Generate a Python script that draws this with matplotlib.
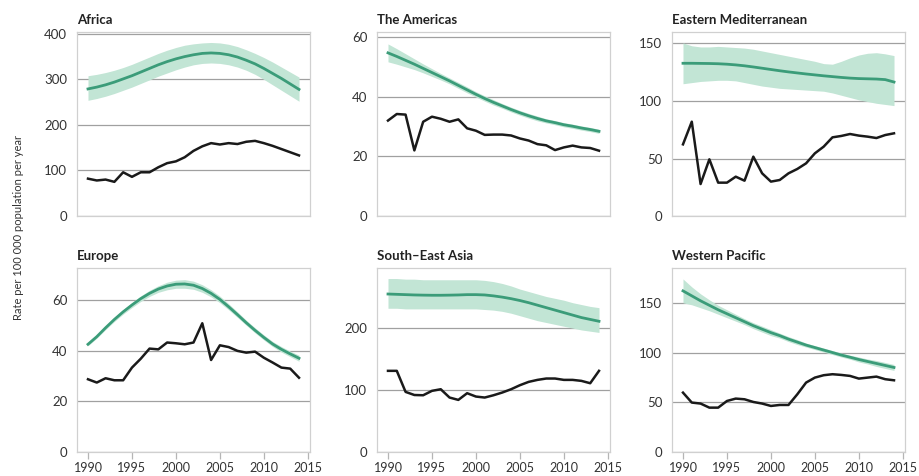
import numpy as np
import matplotlib
matplotlib.use('Agg')
import matplotlib.pyplot as plt

plt.rcParams['font.family'] = ['Lato', 'DejaVu Sans']

years = list(range(1990, 2015))

# Africa
afr_obs = [82, 78, 80, 75, 96, 86, 96, 96, 107, 116, 120, 129, 143, 153, 160, 157,
           160, 158, 163, 165, 160, 154, 147, 140, 133]
afr_est = [279, 283, 288, 294, 301, 308, 316, 324, 332, 339, 345, 350, 354, 357, 358,
           357, 354, 349, 342, 334, 324, 313, 302, 290, 278]
afr_lo = [254, 258, 263, 269, 276, 283, 291, 299, 307, 314, 321, 327, 332, 335, 336,
          335, 332, 327, 320, 311, 300, 288, 276, 264, 252]
afr_hi = [308, 311, 315, 320, 326, 333, 341, 349, 357, 364, 370, 375, 378, 380, 381,
          380, 377, 372, 365, 357, 348, 338, 327, 316, 305]

# The Americas
amr_obs = [32, 34.2, 34, 22, 31.6, 33.3, 32.6, 31.6, 32.4, 29.4, 28.6, 27.2, 27.3, 27.3,
           27, 26, 25.3, 24.1, 23.7, 22.1, 23, 23.6, 23, 22.8, 21.9]
amr_est = [54.7, 53.5, 52.2, 50.9, 49.5, 48.1, 46.7, 45.3, 43.8, 42.3, 40.8, 39.4, 38.1,
           36.9, 35.7, 34.6, 33.6, 32.7, 31.9, 31.3, 30.6, 30.1, 29.5, 29.0, 28.4]
amr_lo = [51.7, 50.9, 50.0, 49.1, 48.0, 46.8, 45.6, 44.3, 42.8, 41.3, 39.9, 38.5, 37.2,
          36.1, 34.9, 33.8, 32.8, 31.9, 31.2, 30.6, 29.9, 29.4, 28.8, 28.3, 27.7]
amr_hi = [57.7, 56.1, 54.4, 52.7, 51.0, 49.4, 47.8, 46.3, 44.8, 43.3, 41.7, 40.3, 39.0,
          37.7, 36.5, 35.4, 34.4, 33.5, 32.6, 32.0, 31.3, 30.8, 30.2, 29.7, 29.1]

# Eastern Mediterranean
emr_obs = [62.3, 82, 27.8, 49.3, 29, 29, 34.2, 30.7, 51.6, 37.1, 29.9, 31.3, 37.1, 40.9,
           45.8, 54.5, 60.3, 68.4, 69.6, 71.3, 69.9, 69, 67.8, 70.4, 71.9]
emr_est = [132.8, 132.8, 132.7, 132.6, 132.4, 132.0, 131.4, 130.6, 129.6, 128.5, 127.4,
           126.3, 125.3, 124.4, 123.5, 122.7, 121.9, 121.2, 120.5, 119.9, 119.5, 119.3,
           119.1, 118.6, 116.5]
emr_lo = [115, 116, 117, 117.5, 118, 118, 117.5, 116, 114.5, 113, 112, 111, 110.5, 110,
          109.5, 109, 108.5, 107, 105, 103, 101, 99.5, 98, 97, 96]
emr_hi = [150.5, 148, 147, 147, 147.5, 147, 146.5, 146, 145, 143.5, 142, 140.5, 139,
          137.5, 136, 134.5, 132.5, 132, 134.5, 137.5, 140, 141.5, 142, 141, 139.5]

# Europe
eur_obs = [28.7, 27.4, 29.1, 28.3, 28.3, 33.3, 36.8, 40.8, 40.5, 43.2, 42.9, 42.5, 43.2,
           50.8, 36.3, 42.1, 41.4, 39.9, 39.2, 39.6, 37.2, 35.3, 33.3, 32.9, 29.3]
eur_est = [42.5, 45.5, 49, 52.3, 55.3, 58, 60.5, 62.6, 64.3, 65.5, 66.2, 66.3, 65.8,
           64.5, 62.6, 60.2, 57.3, 54.2, 51, 48, 45.2, 42.6, 40.5, 38.7, 37]
eur_lo = [41.9, 44.9, 48.3, 51.5, 54.4, 57.0, 59.4, 61.4, 63.0, 64.0, 64.6, 64.6, 64.2,
          63.0, 61.2, 58.9, 56.1, 53.1, 50.0, 47.0, 44.2, 41.6, 39.4, 37.6, 35.8]
eur_hi = [43.1, 46.1, 49.7, 53.1, 56.2, 59.0, 61.6, 63.8, 65.6, 67.0, 67.8, 68.0, 67.4,
          66.0, 64.0, 61.5, 58.5, 55.3, 52.0, 49.0, 46.2, 43.6, 41.6, 39.8, 38.2]

# South-East Asia
sear_obs = [131, 131, 97, 92, 91.6, 98.7, 101.3, 87.9, 84.1, 94.9, 89.5, 87.9, 91.6, 96,
            101.3, 107.8, 113.2, 116.4, 118.6, 118.6, 116.4, 116.4, 114.8, 111, 131]
sear_est = [255, 254.5, 254, 253.5, 253.2, 253, 253, 253.2, 253.5, 254, 254, 253.5, 252,
            250, 247.5, 244.5, 241, 237, 233, 229, 225, 221, 217, 214, 211]
sear_lo = [232, 232, 231, 231, 231, 231, 231, 231, 231, 231, 231, 230, 229, 227, 224,
           220, 216, 212, 209, 206, 203, 200, 197, 195, 193]
sear_hi = [280, 280, 279, 279, 278, 278, 278, 278, 278, 278, 278, 277, 275, 272, 268,
           263, 259, 255, 251, 248, 245, 241, 238, 235, 233]

# Western Pacific
wpr_obs = [59.7, 49.7, 48.7, 44.6, 44.6, 51.3, 53.7, 53, 50.3, 48.7, 46.3, 47.3, 47.3,
           58, 69.8, 74.8, 77.2, 78.2, 77.5, 76.5, 73.8, 74.8, 75.8, 73.2, 72.1]
wpr_est = [162, 157, 152, 147.5, 143, 139, 135, 131, 127, 123.5, 120, 117, 113.5, 110.5,
           107.5, 105, 102.5, 100, 97.5, 95.3, 93, 91, 89, 87, 85]
wpr_lo = [150, 148, 145, 142, 138.5, 135, 131.5, 128, 124, 120.5, 117, 114.5, 111,
          108, 105.5, 103, 100.5, 98, 95.5, 93.3, 90.5, 88.5, 86, 84, 82]
wpr_hi = [174, 166, 159, 153, 147.5, 143, 138.5, 134, 130, 126.5, 123, 119.5, 116,
          113, 109.5, 107, 104.5, 102, 99.5, 97.3, 95.5, 93.5, 92, 90, 88]

titles = ['Africa', 'The Americas', 'Eastern Mediterranean',
          'Europe', 'South\u2013East Asia', 'Western Pacific']
obs = [afr_obs, amr_obs, emr_obs, eur_obs, sear_obs, wpr_obs]
est = [afr_est, amr_est, emr_est, eur_est, sear_est, wpr_est]
lo = [afr_lo, amr_lo, emr_lo, eur_lo, sear_lo, wpr_lo]
hi = [afr_hi, amr_hi, emr_hi, eur_hi, sear_hi, wpr_hi]
yticks = [[0, 100, 200, 300, 400], [0, 20, 40, 60], [0, 50, 100, 150],
          [0, 20, 40, 60], [0, 100, 200], [0, 50, 100, 150]]
ytops = [404, 61.7, 160, 72.6, 297, 185]
xticks = [1990, 1995, 2000, 2005, 2010, 2015]

green = '#3b9c79'
band = '#c2e5d5'

fig = plt.figure(figsize=(9.19, 4.76), dpi=100)
lefts = [77 / 919, 377 / 919, 672 / 919]
bottoms = [1 - 216 / 476, 1 - 452 / 476]
w = 233 / 919
h = 184 / 476

for i in range(6):
    r, c = divmod(i, 3)
    ax = fig.add_axes([lefts[c], bottoms[r], w, h])
    ax.fill_between(years, lo[i], hi[i], color=band, lw=0, zorder=2)
    ax.plot(years, est[i], color=green, lw=2, zorder=3)
    ax.plot(years, obs[i], color='#1a1a1a', lw=1.8, zorder=4)
    ax.set_xlim(1988.75, 2015.25)
    ax.set_ylim(0, ytops[i])
    ax.set_yticks(yticks[i])
    ax.grid(axis='y', color='#a0a0a0', lw=0.9, zorder=1)
    for s in ax.spines.values():
        s.set_color('#d0d0d0')
        s.set_linewidth(0.9)
    ax.tick_params(axis='y', length=0, pad=7, labelsize=9.5, labelcolor='#333333')
    if r == 1:
        ax.set_xticks(xticks)
        ax.tick_params(axis='x', length=5, width=0.9, color='#b5b5b5', pad=2,
                       labelsize=9, labelcolor='#333333')
    else:
        ax.set_xticks([])
    ax.set_title(titles[i], loc='left', fontweight='bold', fontsize=9.5, pad=6,
                 color='#222222')

fig.text(0.02, 0.523, 'Rate per 100 000 population per year', rotation=90,
         va='center', ha='center', fontsize=8, color='#333333')

fig.savefig('out.png', dpi=100)
